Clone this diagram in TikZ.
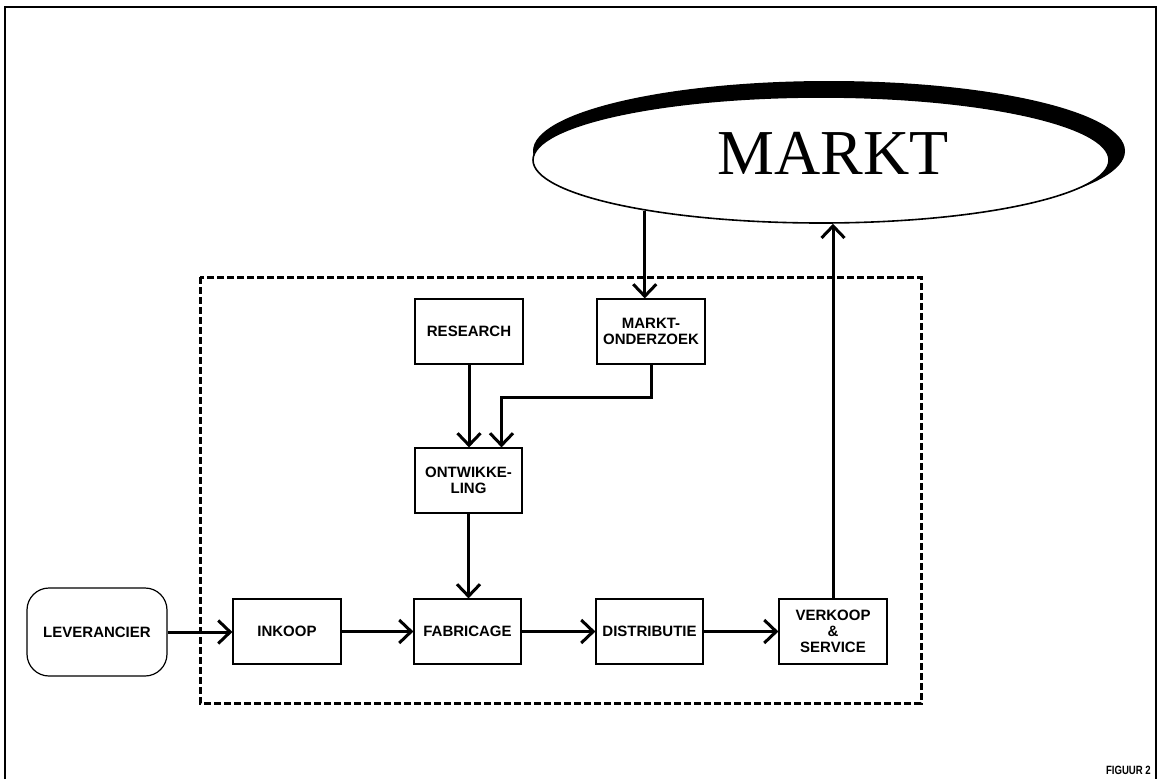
\documentclass[tikz,border=0pt]{standalone}
\usepackage{fontspec}
\setmainfont{Liberation Serif}
\newfontfamily\boxfont{Liberation Sans}
\usetikzlibrary{arrows.meta,shapes.geometric}

\tikzset{
  frameline/.style={line width=2pt},
  stepbox/.style={draw, line width=1.2pt, minimum width=108pt, minimum height=65pt,
    inner sep=0pt, align=center, font=\boxfont\bfseries\fontsize{15}{16}\selectfont},
  supplier/.style={stepbox, rounded corners=22pt, minimum width=140pt, minimum height=88pt},
  flow/.style={line width=3pt, -{Straight Barb[length=12pt,width=23pt]}},
  firmline/.style={line width=3pt, dash pattern=on 7pt off 3pt},
  marketshape/.style={ellipse, draw, fill=white, line width=1.6pt, inner sep=0pt,
    minimum width=576pt, minimum height=126pt}
}

\begin{document}
\begin{tikzpicture}[x=1pt,y=-1pt]
\useasboundingbox (0,0) rectangle (1161,779);

% page frame, open at the bottom
\draw[frameline] (5,779) -- (5,7) -- (1156,7) -- (1156,779);

% the market: thick shadowed ellipse
\fill (829,151) ellipse [x radius=296, y radius=70];
\node[marketshape] (markt) at (821,160) {};
\node[font=\fontsize{64}{64}\selectfont] at (833,153) {MARKT};

% boundary of the firm
\draw[firmline] (200,277) rectangle (921,703);

% functions
\node[stepbox] (research) at (469,331.5) {RESEARCH};
\node[stepbox] (mo) at (651,331.5) {MARKT-\\ONDERZOEK};
\node[stepbox, minimum width=107pt] (ontw) at (468.5,480.5) {ONTWIKKE-\\LING};
\node[supplier] (lev) at (97,632) {LEVERANCIER};
\node[stepbox] (inkoop) at (287,631.5) {INKOOP};
\node[stepbox, minimum width=107pt] (fab) at (467.5,631.5) {FABRICAGE};
\node[stepbox, minimum width=107pt] (dist) at (649.5,631.5) {DISTRIBUTIE};
\node[stepbox] (verk) at (833,631.5) {VERKOOP\\\&\\SERVICE};

% information and goods flows
\draw[flow] (markt.196.7) -- (markt.196.7 |- mo.north);
\draw[flow] (verk.north) -- (verk.north |- markt.south);
\draw[flow] (research.south) -- (research.south |- ontw.north);
\draw[flow] (mo.south) -- ++(0,33) -| ([xshift=33pt]ontw.north);
\draw[flow] (ontw.south) -- (ontw.south |- fab.north);
\draw[flow] (lev.east) -- (inkoop.west |- lev.east);
\draw[flow] (inkoop.east) -- (fab.west);
\draw[flow] (fab.east) -- (dist.west);
\draw[flow] (dist.east) -- (verk.west);

% caption
\node[anchor=east, inner sep=0pt, font=\boxfont\bfseries\fontsize{12}{12}\selectfont]
  (caption) at (1151,770) {\scalebox{0.8}[1]{FIGUUR 2}};
\end{tikzpicture}
\end{document}
